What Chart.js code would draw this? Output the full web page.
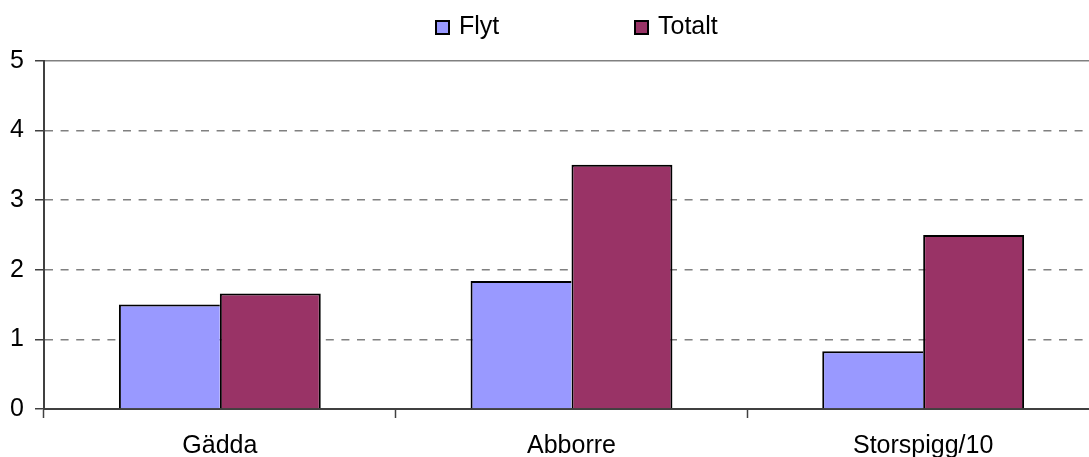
<!DOCTYPE html>
<html>
<head>
<meta charset="utf-8">
<script src="https://cdn.jsdelivr.net/npm/chart.js@4.4.1/dist/chart.umd.min.js"></script>
<style>
  html, body { margin: 0; padding: 0; overflow: hidden; background: #fff; width: 1089px; height: 457px; }
  #wrap { position: absolute; left: 0; top: 0; width: 1100px; height: 457px; }
  .leg { position: absolute; font-family: "Liberation Sans", Arial, sans-serif; font-size: 25px; line-height: 25px; color: #000; white-space: nowrap; }
  .box { position: absolute; width: 11px; height: 11px; border: 2px solid #000; }
</style>
</head>
<body>
<div id="wrap"><canvas id="c" width="1100" height="457"></canvas></div>
<div class="box" style="left:435px;top:20px;background:#9999FF"></div>
<div class="leg" style="left:459px;top:13px">Flyt</div>
<div class="box" style="left:634px;top:20px;background:#993366"></div>
<div class="leg" style="left:658px;top:13px">Totalt</div>
<script>
const categories = ["Gädda", "Abborre", "Storspigg/10"];
const flyt = [1.50, 1.84, 0.83];
const totalt = [1.66, 3.51, 2.50];
const yTicks = [0, 1, 2, 3, 4, 5];

const FONT = { family: "'Liberation Sans', Arial, sans-serif", size: 25 };

new Chart(document.getElementById('c'), {
  type: 'bar',
  data: {
    labels: categories,
    datasets: [
      { label: 'Flyt', data: flyt, backgroundColor: '#9999FF', borderColor: '#000',
        borderWidth: { top: 2, left: 2, right: 0, bottom: 0 }, borderSkipped: false,
        categoryPercentage: 0.574, barPercentage: 1.0 },
      { label: 'Totalt', data: totalt, backgroundColor: '#993366', borderColor: '#000',
        borderWidth: { top: 2, left: 2, right: 2, bottom: 0 }, borderSkipped: false,
        categoryPercentage: 0.574, barPercentage: 1.0 }
    ]
  },
  options: {
    responsive: false,
    animation: false,
    devicePixelRatio: 1,
    layout: { padding: { top: 61, right: 1, left: 0, bottom: 0 } },
    plugins: { legend: { display: false }, tooltip: { enabled: false } },
    scales: {
      x: {
        type: 'category',
        position: 'bottom',
        grid: { drawOnChartArea: false, drawTicks: true, tickLength: 9, tickColor: '#404040', tickWidth: 1.5, offset: true },
        border: { color: '#404040', width: 2 },
        ticks: { font: FONT, color: '#000', padding: 13, maxRotation: 0, autoSkip: false },
        afterFit: s => { s.height = 48; }
      },
      xTop: {
        type: 'category',
        position: 'top',
        labels: categories,
        grid: { display: false },
        ticks: { display: false },
        border: { color: '#808080', width: 1.5 },
        afterFit: s => { s.height = 0; }
      },
      y: {
        min: 0, max: 5,
        afterBuildTicks: s => { s.ticks = yTicks.map(v => ({ value: v })); },
        ticks: { font: FONT, color: '#000', padding: 11 },
        grid: {
          color: c => (c.tick && c.tick.value === 5) ? 'rgba(0,0,0,0)' : '#808080',
          lineWidth: 1.5,
          tickLength: 9, tickColor: '#404040', tickWidth: 1.5
        },
        border: { color: '#404040', width: 2, dash: [8, 7.6] },
        afterFit: s => { s.width = 44; }
      }
    }
  }
});
</script>
</body>
</html>
